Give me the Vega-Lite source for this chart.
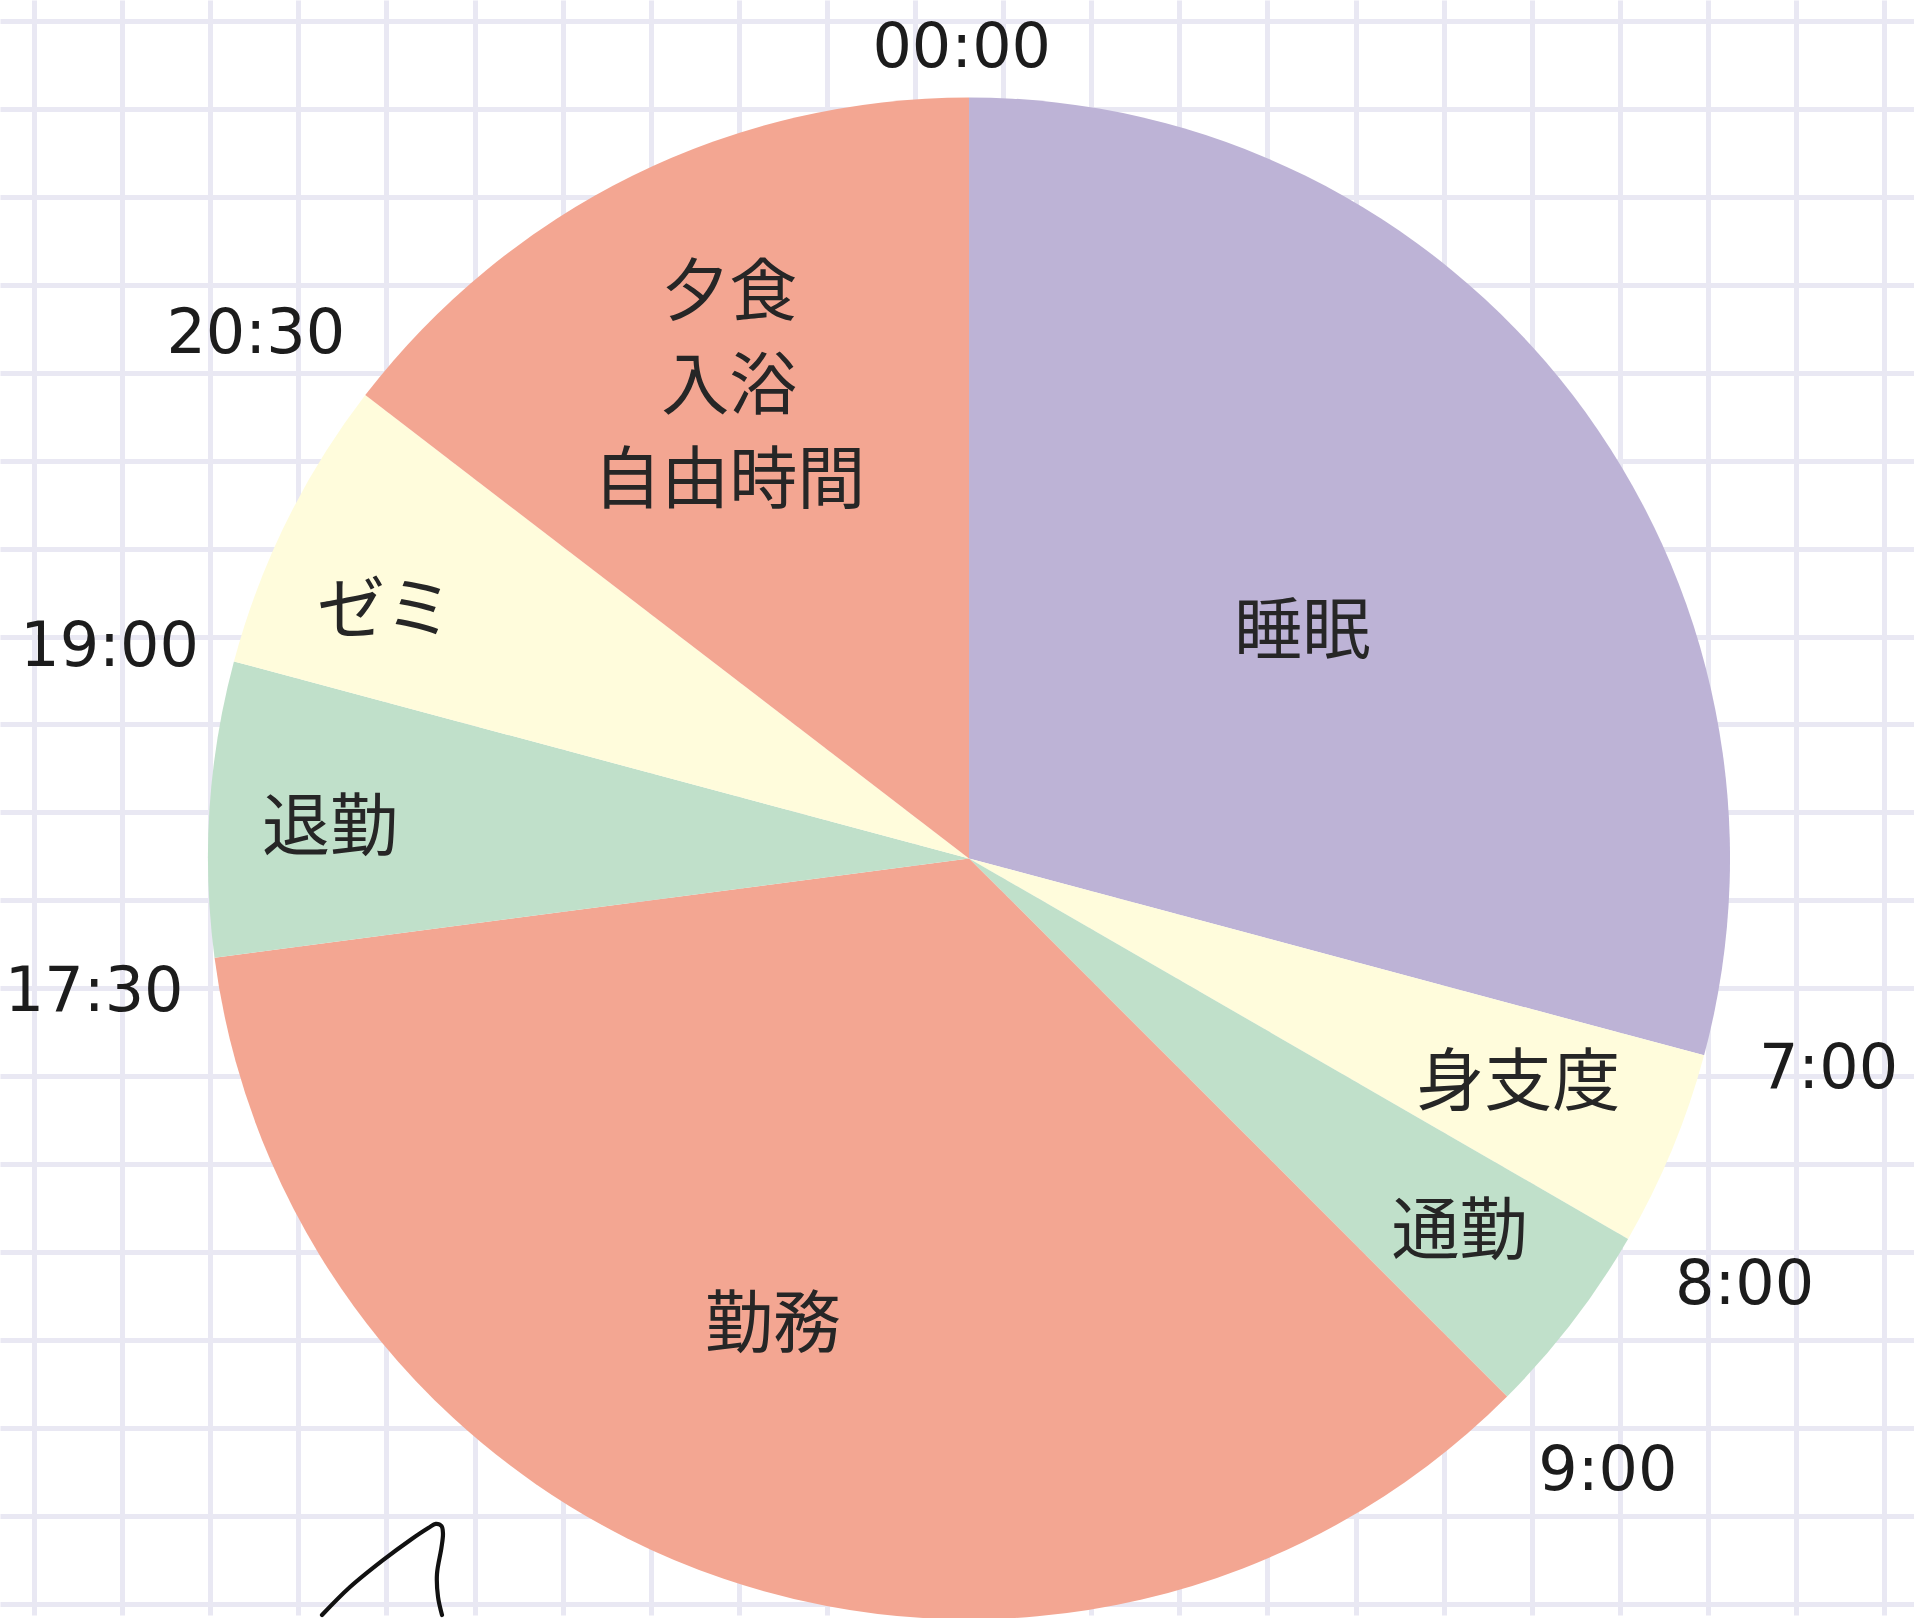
{
  "$schema": "https://vega.github.io/schema/vega-lite/v6.json",
  "width": 1914,
  "height": 1618,
  "autosize": {"type": "fit", "contains": "padding"},
  "padding": 0,
  "background": "#ffffff",
  "config": {"view": {"stroke": null}},
  "datasets": {
    "slices": [
      {"seq": 1, "activity": "睡眠", "hours": 7},
      {"seq": 2, "activity": "身支度", "hours": 1},
      {"seq": 3, "activity": "通勤", "hours": 1},
      {"seq": 4, "activity": "勤務", "hours": 8.5},
      {"seq": 5, "activity": "退勤", "hours": 1.5},
      {"seq": 6, "activity": "ゼミ", "hours": 1.5},
      {"seq": 7, "activity": "夕食\n入浴\n自由時間", "hours": 3.5}
    ],
    "times": [
      {"hour": 0, "label": "00:00"},
      {"hour": 7, "label": "7:00"},
      {"hour": 8, "label": "8:00"},
      {"hour": 9, "label": "9:00"},
      {"hour": 17.5, "label": "17:30"},
      {"hour": 19, "label": "19:00"},
      {"hour": 20.5, "label": "20:30"}
    ],
    "doodle": [
      {"i": 1, "gx": 3.269, "gy": 18.127},
      {"i": 2, "gx": 3.587, "gy": 17.809},
      {"i": 3, "gx": 3.961, "gy": 17.503},
      {"i": 4, "gx": 4.268, "gy": 17.276},
      {"i": 5, "gx": 4.480, "gy": 17.135},
      {"i": 6, "gx": 4.560, "gy": 17.090},
      {"i": 7, "gx": 4.625, "gy": 17.115},
      {"i": 8, "gx": 4.642, "gy": 17.200},
      {"i": 9, "gx": 4.625, "gy": 17.360},
      {"i": 10, "gx": 4.574, "gy": 17.662},
      {"i": 11, "gx": 4.586, "gy": 17.923},
      {"i": 12, "gx": 4.631, "gy": 18.127}
    ]
  },
  "layer": [
    {
      "data": {"name": "doodle"},
      "mark": {"type": "line", "color": "#111111", "strokeWidth": 4.2, "interpolate": "catmull-rom", "strokeCap": "round", "strokeJoin": "round"},
      "encoding": {
        "x": {
          "field": "gx", "type": "quantitative",
          "scale": {"domain": [-0.3859, 21.339], "nice": false, "zero": false},
          "axis": {"values": [0,1,2,3,4,5,6,7,8,9,10,11,12,13,14,15,16,17,18,19,20,21], "grid": true, "gridColor": "#E9E8F3", "gridWidth": 5, "labels": false, "ticks": false, "domain": false, "title": null}
        },
        "y": {
          "field": "gy", "type": "quantitative",
          "scale": {"domain": [-0.2384, 18.127], "nice": false, "zero": false, "reverse": true},
          "axis": {"values": [0,1,2,3,4,5,6,7,8,9,10,11,12,13,14,15,16,17,18], "grid": true, "gridColor": "#E9E8F3", "gridWidth": 5, "labels": false, "ticks": false, "domain": false, "title": null}
        },
        "order": {"field": "i", "type": "quantitative"}
      }
    },
    {
      "data": {"name": "slices"},
      "mark": {"type": "arc", "radius": 761},
      "encoding": {
        "x": {"datum": 10.613, "type": "quantitative"},
        "y": {"datum": 9.523, "type": "quantitative"},
        "theta": {"field": "hours", "type": "quantitative", "stack": true},
        "order": {"field": "seq", "type": "quantitative"},
        "color": {
          "field": "activity", "type": "nominal", "legend": null,
          "scale": {
            "domain": ["睡眠", "身支度", "通勤", "勤務", "退勤", "ゼミ", "夕食\n入浴\n自由時間"],
            "range": ["#BDB3D6", "#FFFCDC", "#C0E0CA", "#F3A692", "#C0E0CA", "#FFFCDC", "#F3A692"]
          }
        }
      }
    },
    {
      "data": {"name": "slices"},
      "mark": {"type": "text", "radius": 405, "thetaOffset": 0.05, "dy": 6, "font": "Noto Sans CJK JP", "fontSize": 68, "fill": "#262626", "align": "center", "baseline": "middle"},
      "encoding": {
        "x": {"datum": 10.613, "type": "quantitative"},
        "y": {"datum": 9.523, "type": "quantitative"},
        "theta": {"field": "hours", "type": "quantitative", "stack": true},
        "order": {"field": "seq", "type": "quantitative"},
        "detail": {"field": "activity", "type": "nominal"},
        "text": {"field": "activity", "type": "nominal"},
        "opacity": {"condition": {"test": "datum.seq == 1", "value": 1}, "value": 0}
      }
    },
    {
      "data": {"name": "slices"},
      "mark": {"type": "text", "radius": 592, "thetaOffset": -0.01, "dy": 6, "font": "Noto Sans CJK JP", "fontSize": 68, "fill": "#262626", "align": "center", "baseline": "middle"},
      "encoding": {
        "x": {"datum": 10.613, "type": "quantitative"},
        "y": {"datum": 9.523, "type": "quantitative"},
        "theta": {"field": "hours", "type": "quantitative", "stack": true},
        "order": {"field": "seq", "type": "quantitative"},
        "detail": {"field": "activity", "type": "nominal"},
        "text": {"field": "activity", "type": "nominal"},
        "opacity": {"condition": {"test": "datum.seq == 2", "value": 1}, "value": 0}
      }
    },
    {
      "data": {"name": "slices"},
      "mark": {"type": "text", "radius": 614, "thetaOffset": -0.009, "dy": 6, "font": "Noto Sans CJK JP", "fontSize": 68, "fill": "#262626", "align": "center", "baseline": "middle"},
      "encoding": {
        "x": {"datum": 10.613, "type": "quantitative"},
        "y": {"datum": 9.523, "type": "quantitative"},
        "theta": {"field": "hours", "type": "quantitative", "stack": true},
        "order": {"field": "seq", "type": "quantitative"},
        "detail": {"field": "activity", "type": "nominal"},
        "text": {"field": "activity", "type": "nominal"},
        "opacity": {"condition": {"test": "datum.seq == 3", "value": 1}, "value": 0}
      }
    },
    {
      "data": {"name": "slices"},
      "mark": {"type": "text", "radius": 502, "thetaOffset": 0.074, "dy": 6, "font": "Noto Sans CJK JP", "fontSize": 68, "fill": "#262626", "align": "center", "baseline": "middle"},
      "encoding": {
        "x": {"datum": 10.613, "type": "quantitative"},
        "y": {"datum": 9.523, "type": "quantitative"},
        "theta": {"field": "hours", "type": "quantitative", "stack": true},
        "order": {"field": "seq", "type": "quantitative"},
        "detail": {"field": "activity", "type": "nominal"},
        "text": {"field": "activity", "type": "nominal"},
        "opacity": {"condition": {"test": "datum.seq == 4", "value": 1}, "value": 0}
      }
    },
    {
      "data": {"name": "slices"},
      "mark": {"type": "text", "radius": 640, "thetaOffset": -0.011, "dy": 6, "font": "Noto Sans CJK JP", "fontSize": 68, "fill": "#262626", "align": "center", "baseline": "middle"},
      "encoding": {
        "x": {"datum": 10.613, "type": "quantitative"},
        "y": {"datum": 9.523, "type": "quantitative"},
        "theta": {"field": "hours", "type": "quantitative", "stack": true},
        "order": {"field": "seq", "type": "quantitative"},
        "detail": {"field": "activity", "type": "nominal"},
        "text": {"field": "activity", "type": "nominal"},
        "opacity": {"condition": {"test": "datum.seq == 5", "value": 1}, "value": 0}
      }
    },
    {
      "data": {"name": "slices"},
      "mark": {"type": "text", "radius": 636, "thetaOffset": -0.051, "dy": 6, "font": "Noto Sans CJK JP", "fontSize": 68, "fill": "#262626", "align": "center", "baseline": "middle"},
      "encoding": {
        "x": {"datum": 10.613, "type": "quantitative"},
        "y": {"datum": 9.523, "type": "quantitative"},
        "theta": {"field": "hours", "type": "quantitative", "stack": true},
        "order": {"field": "seq", "type": "quantitative"},
        "detail": {"field": "activity", "type": "nominal"},
        "text": {"field": "activity", "type": "nominal"},
        "opacity": {"condition": {"test": "datum.seq == 6", "value": 1}, "value": 0}
      }
    },
    {
      "data": {"name": "slices"},
      "mark": {"type": "text", "radius": 532, "thetaOffset": -0.0096, "dy": -89, "font": "Noto Sans CJK JP", "fontSize": 68, "fill": "#262626", "align": "center", "baseline": "middle", "lineBreak": "\n", "lineHeight": 94},
      "encoding": {
        "x": {"datum": 10.613, "type": "quantitative"},
        "y": {"datum": 9.523, "type": "quantitative"},
        "theta": {"field": "hours", "type": "quantitative", "stack": true},
        "order": {"field": "seq", "type": "quantitative"},
        "detail": {"field": "activity", "type": "nominal"},
        "text": {"field": "activity", "type": "nominal"},
        "opacity": {"condition": {"test": "datum.seq == 7", "value": 1}, "value": 0}
      }
    },
    {
      "data": {"name": "times"},
      "transform": [{"filter": "datum.hour > 0"}],
      "mark": {"type": "text", "radius": 885, "thetaOffset": -0.021, "font": "DejaVu Sans", "fontSize": 62, "fill": "#1c1c1c", "align": "center", "baseline": "middle"},
      "encoding": {
        "x": {"datum": 10.613, "type": "quantitative"},
        "y": {"datum": 9.523, "type": "quantitative"},
        "theta": {"field": "hour", "type": "quantitative"},
        "text": {"field": "label", "type": "nominal"}
      }
    },
    {
      "data": {"name": "times"},
      "transform": [{"filter": "datum.hour == 0"}],
      "mark": {"type": "text", "radius": 810, "thetaOffset": -0.009, "font": "DejaVu Sans", "fontSize": 62, "fill": "#1c1c1c", "align": "center", "baseline": "middle"},
      "encoding": {
        "x": {"datum": 10.613, "type": "quantitative"},
        "y": {"datum": 9.523, "type": "quantitative"},
        "theta": {"field": "hour", "type": "quantitative"},
        "text": {"field": "label", "type": "nominal"}
      }
    }
  ]
}
